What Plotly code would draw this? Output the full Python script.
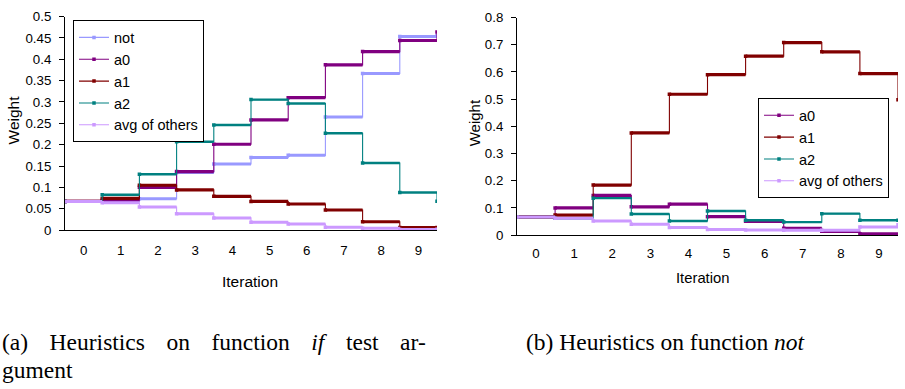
import plotly.graph_objects as go

W, H = 905, 389

iterations = list(range(10))
tick_labels = [str(i) for i in iterations]

# Left chart: heuristics on function "if" test argument (values per iteration + final value)
left_not = [0.067, 0.068, 0.0736, 0.135, 0.155, 0.170, 0.175, 0.265, 0.367, 0.4535, 0.455]
left_a0 = [0.067, 0.070, 0.100, 0.137, 0.201, 0.258, 0.310, 0.387, 0.418, 0.444, 0.464]
left_a1 = [0.067, 0.074, 0.105, 0.094, 0.079, 0.067, 0.061, 0.047, 0.0195, 0.006, 0.006]
left_a2 = [0.067, 0.0826, 0.1306, 0.207, 0.246, 0.3056, 0.2966, 0.2267, 0.157, 0.0878, 0.0676]
left_avg = [0.067, 0.064, 0.054, 0.038, 0.0285, 0.018, 0.014, 0.0068, 0.0045, 0.0015, 0.002]

# Right chart: heuristics on function "not"
right_a0 = [0.067, 0.100, 0.146, 0.104, 0.114, 0.068, 0.051, 0.025, 0.014, 0.005, 0.0]
right_a1 = [0.067, 0.074, 0.184, 0.376, 0.518, 0.590, 0.658, 0.708, 0.674, 0.594, 0.498]
right_a2 = [0.067, 0.062, 0.136, 0.078, 0.052, 0.089, 0.055, 0.048, 0.079, 0.055, 0.055]
right_avg = [0.067, 0.062, 0.052, 0.040, 0.028, 0.021, 0.019, 0.018, 0.018, 0.030, 0.038]

colors = {
    "not": "#9999FF",
    "a0": "#800080",
    "a1": "#800000",
    "a2": "#008080",
    "avg of others": "#CC99FF",
}
thick = {"not": 3, "a0": 3.2, "a1": 3.2, "a2": 2.4, "avg of others": 3}

FONT = "Liberation Sans, Arial, sans-serif"

fig = go.Figure()

# step edges derived from iteration categories
edges = [i - 0.5 for i in iterations] + [iterations[-1] + 0.5]


def add_series(name, vals, xa, ya, legend):
    c = colors[name]
    # thin step line (vertical transitions) + legend entry
    fig.add_trace(go.Scatter(
        x=edges, y=vals, mode="lines+markers", line_shape="hv",
        line=dict(color=c, width=1.1), marker=dict(color=c, size=3.5, symbol="square"),
        name=name, xaxis=xa, yaxis=ya, legend=legend, showlegend=True,
        hoverinfo="skip",
    ))
    # thick horizontal segments for each iteration
    hx, hy = [], []
    for i in iterations:
        hx += [edges[i], edges[i + 1], None]
        hy += [vals[i], vals[i], None]
    fig.add_trace(go.Scatter(
        x=hx, y=hy, mode="lines", line=dict(color=c, width=thick[name]),
        xaxis=xa, yaxis=ya, showlegend=False, hoverinfo="skip",
    ))


for nm, v in [("not", left_not), ("a0", left_a0), ("a1", left_a1),
              ("a2", left_a2), ("avg of others", left_avg)]:
    add_series(nm, v, "x", "y", "legend")

for nm, v in [("a0", right_a0), ("a1", right_a1), ("a2", right_a2),
              ("avg of others", right_avg)]:
    add_series(nm, v, "x2", "y2", "legend2")

axis_common = dict(showgrid=False, zeroline=False, showline=True,
                   linecolor="black", linewidth=1,
                   tickfont=dict(family=FONT, size=13.3, color="black"))

LEG_FONT = dict(family=FONT, size=14.5, color="black")

fig.update_layout(
    width=W, height=H,
    margin=dict(l=0, r=0, t=0, b=0),
    paper_bgcolor="white", plot_bgcolor="white",
    font=dict(family=FONT, color="black"),
    xaxis=dict(domain=[65 / W, 437 / W], range=[-0.5, 9.5], anchor="y",
               tickmode="array", tickvals=iterations, ticktext=tick_labels,
               ticks="", ticklabelstandoff=8, **axis_common),
    yaxis=dict(domain=[(H - 232) / H, (H - 10) / H], range=[0, 0.5], anchor="x",
               tick0=0, dtick=0.05, ticks="outside", ticklen=5, tickcolor="black",
               ticklabelstandoff=5, **axis_common),
    xaxis2=dict(domain=[517 / W, 898 / W], range=[-0.5, 9.5], anchor="y2",
                tickmode="array", tickvals=iterations, ticktext=tick_labels,
                ticks="", ticklabelstandoff=6, **axis_common),
    yaxis2=dict(domain=[(H - 237.3) / H, (H - 11) / H], range=[0, 0.8], anchor="x2",
                tick0=0, dtick=0.1, ticks="outside", ticklen=5, tickcolor="black",
                ticklabelstandoff=5, **axis_common),
    legend=dict(x=204 / W, y=1 - 14 / H, xanchor="right", yanchor="top",
                bgcolor="white", bordercolor="black", borderwidth=1,
                font=LEG_FONT, itemwidth=30, tracegroupgap=0),
    legend2=dict(x=889 / W, y=1 - 95 / H, xanchor="right", yanchor="top",
                 bgcolor="white", bordercolor="black", borderwidth=1,
                 font=LEG_FONT, itemwidth=30, tracegroupgap=0),
)

ann = []
ann.append(dict(text="Weight", x=13 / W, y=1 - 118 / H, xref="paper", yref="paper",
                xanchor="center", yanchor="middle",
                textangle=-90, showarrow=False, font=dict(family=FONT, size=15.5)))
ann.append(dict(text="Weight", x=474 / W, y=1 - 121 / H, xref="paper", yref="paper",
                xanchor="center", yanchor="middle",
                textangle=-90, showarrow=False, font=dict(family=FONT, size=15)))
ann.append(dict(text="Iteration", x=250 / W, y=1 - 285 / H, xref="paper", yref="paper",
                xanchor="center", yanchor="middle",
                showarrow=False, font=dict(family=FONT, size=15.5)))
ann.append(dict(text="Iteration", x=702.7 / W, y=1 - 282 / H, xref="paper", yref="paper",
                xanchor="center", yanchor="middle",
                showarrow=False, font=dict(family=FONT, size=14.8)))

SERIF = "Liberation Serif, Times New Roman, serif"
sp = "&nbsp;&nbsp;&nbsp;&#8198;"
cap_a1 = sp.join(["(a)", "Heuristics", "on", "function", "<i>if</i>", "test", "ar-"])
ann.append(dict(text=cap_a1, x=0 / W, y=1 - 348 / H, xref="paper", yref="paper",
                xanchor="left", yanchor="middle", showarrow=False,
                font=dict(family=SERIF, size=23.5, color="black")))
ann.append(dict(text="gument", x=0 / W, y=1 - 378 / H, xref="paper", yref="paper",
                xanchor="left", yanchor="middle", showarrow=False,
                font=dict(family=SERIF, size=23.5, color="black")))
ann.append(dict(text="(b) Heuristics on function <i>not</i>", x=524 / W, y=1 - 348 / H,
                xref="paper", yref="paper", xanchor="left", yanchor="middle",
                showarrow=False, font=dict(family=SERIF, size=23.5, color="black")))
fig.update_layout(annotations=ann)

fig.write_html("out.html")
